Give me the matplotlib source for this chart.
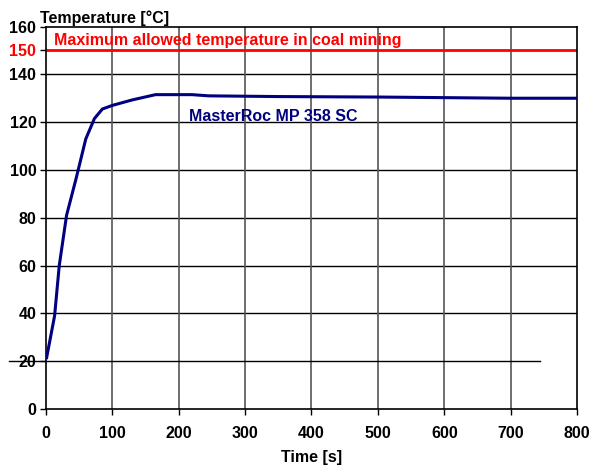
import numpy as np
import matplotlib.pyplot as plt

plt.rcParams['font.family'] = ['Liberation Sans', 'DejaVu Sans']
plt.rcParams['font.weight'] = 'bold'

# curve
time_s = [1, 13, 20, 31, 45, 60, 73, 85, 100, 130, 165, 220, 245, 350, 500, 700, 800]
temp_c = [21.5, 39, 60, 81, 96, 113, 121.5, 125.5, 127, 129.3, 131.5, 131.5, 131, 130.7, 130.5, 130, 130]

limit_temp = 150
start_temp = 20
yticks = [0, 20, 40, 60, 80, 100, 120, 140, 150, 160]
xticks = [0, 100, 200, 300, 400, 500, 600, 700, 800]

fs = 11.5

fig = plt.figure(figsize=(5.94, 4.66), dpi=100)
ax = fig.add_axes([0.0774, 0.1223, 0.894, 0.8208])
ax.set_xlim(0, 800)
ax.set_ylim(0, 160)

# grid
for y in [40, 60, 80, 100, 120, 140]:
    ax.axhline(y, color='black', lw=1, zorder=1)
for x in xticks[1:-1]:
    ax.axvline(x, color='#555555', lw=1.2, zorder=1)

# the 20 line sticks out past the axis on the left
ax.plot([-56, 744], [start_temp, start_temp], color='black', lw=1, clip_on=False, zorder=1)

ax.axhline(limit_temp, color='#ff0000', lw=2, zorder=2)
ax.plot(time_s, temp_c, color='#000080', lw=2.2, zorder=3)

ax.text(12, 154, 'Maximum allowed temperature in coal mining', color='#ff0000',
        fontsize=fs, fontweight='bold', va='center')
ax.text(215, 122.5, 'MasterRoc MP 358 SC', color='#000080',
        fontsize=fs, fontweight='bold', va='center')

ax.set_xticks(xticks)
ax.set_yticks(yticks)
ax.set_yticklabels([str(v) for v in yticks])
ax.tick_params(labelsize=fs, length=4, width=1, color='black', pad=3)
ax.tick_params(axis='x', pad=8)
for lab in ax.get_yticklabels():
    if lab.get_text() == '150':
        lab.set_color('#ff0000')
for lab in ax.get_xticklabels() + ax.get_yticklabels():
    lab.set_fontweight('bold')

for s in ax.spines.values():
    s.set_linewidth(1.2)
    s.set_color('black')

ax.set_xlabel('Time [s]', fontsize=fs, fontweight='bold', labelpad=7)
fig.text(40 / 594, 1 - 18 / 466, 'Temperature [°C]', fontsize=fs, fontweight='bold', va='center')

fig.savefig('out.png', dpi=100)
